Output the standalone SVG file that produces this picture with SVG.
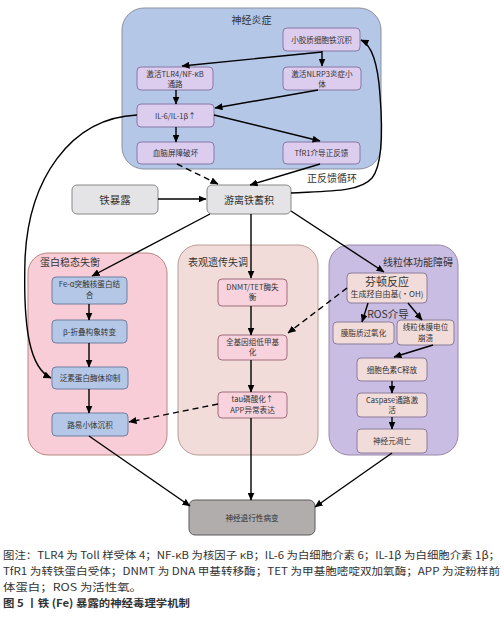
<svg xmlns="http://www.w3.org/2000/svg" width="504" height="618" viewBox="0 0 504 618">
<defs>
<marker id="ah" markerUnits="userSpaceOnUse" markerWidth="8" markerHeight="7" refX="7.5" refY="3.5" orient="auto">
<path d="M0,0 L8,3.5 L0,7 z" fill="#000"/>
</marker>
<style>
text{font-family:"Noto Sans CJK SC","Noto Sans",sans-serif;fill:#333;}
.t{font-size:7.6px;text-anchor:middle;}
.pt{font-size:10px;}
.c{stroke:#000;stroke-width:1.4;fill:none;marker-end:url(#ah);}
.d{stroke-dasharray:6,4;}
.pb{fill:#b4c7e7;stroke:#8a8f9e;stroke-width:1;}
.bp{fill:#dccdee;stroke:#8878a8;stroke-width:1;}
.pl{fill:#f8cdd7;stroke:#b8877f;stroke-width:1;}
.bl{fill:#b4c7e7;stroke:#6f7fa0;stroke-width:1;}
.pm{fill:#f2dcda;stroke:#b89c96;stroke-width:1;}
.bm{fill:#f8d3dd;stroke:#a06c7c;stroke-width:1;}
.pr{fill:#c9bde3;stroke:#9c88a8;stroke-width:1;}
.br{fill:#f2dcda;stroke:#8a7c9a;stroke-width:1;}
.g{fill:#e4e4e6;stroke:#888;stroke-width:1;}
.cap{font-size:10.6px;fill:#333;}
</style>
</defs>
<g id="panel-neuroinflammation">
<rect class="pb" x="122" y="8" width="259" height="161" rx="22"/>
<text class="pt" x="251.5" y="24" text-anchor="middle">神经炎症</text>
</g>
<g id="panel-proteostasis">
<rect class="pl" x="28" y="253" width="139" height="202" rx="20"/>
<text class="pt" x="40" y="266">蛋白稳态失衡</text>
</g>
<g id="panel-epigenetic">
<rect class="pm" x="178" y="245" width="140" height="210" rx="20"/>
<text class="pt" x="188" y="266">表观遗传失调</text>
</g>
<g id="panel-mito">
<rect class="pr" x="329" y="245" width="129" height="210" rx="20"/>
<text class="pt" x="453" y="266" text-anchor="end">线粒体功能障碍</text>
</g>
<g id="n-microglia"><rect class="bp" x="283" y="28" width="77" height="23" rx="4"/><text class="t" x="321.5" y="42.5">小胶质细胞铁沉积</text></g>
<g id="n-tlr4"><rect class="bp" x="137" y="67" width="76" height="23" rx="4"/><text class="t" x="175" y="76.5">激活TLR4/NF-κB</text><text class="t" x="175" y="87">通路</text></g>
<g id="n-nlrp3"><rect class="bp" x="283" y="67" width="78" height="23" rx="4"/><text class="t" x="322" y="76.5">激活NLRP3炎症小</text><text class="t" x="322" y="87">体</text></g>
<g id="n-il6"><rect class="bp" x="137" y="104" width="77" height="23" rx="4"/><text class="t" x="175.5" y="118.5">IL-6/IL-1β↑</text></g>
<g id="n-bbb"><rect class="bp" x="137" y="142" width="77" height="22" rx="4"/><text class="t" x="175.5" y="156">血脑屏障破坏</text></g>
<g id="n-tfr1"><rect class="bp" x="283" y="142" width="77" height="22" rx="4"/><text class="t" x="321.5" y="156">TfR1介导正反馈</text></g>
<g id="n-exposure"><rect class="g" x="72" y="185" width="86" height="29" rx="5"/><text x="115" y="203.5" font-size="10.5" text-anchor="middle">铁暴露</text></g>
<g id="n-freeiron"><rect class="g" x="207" y="185" width="84" height="29" rx="5"/><text x="249" y="203.5" font-size="10" text-anchor="middle">游离铁蓄积</text></g>
<g id="n-fe-syn"><rect class="bl" x="52" y="277" width="75" height="27" rx="4"/><text class="t" x="89.5" y="287">Fe-α突触核蛋白结</text><text class="t" x="89.5" y="297.5">合</text></g>
<g id="n-beta"><rect class="bl" x="52" y="320" width="75" height="23" rx="4"/><text class="t" x="89.5" y="334.5">β-折叠构象转变</text></g>
<g id="n-ups"><rect class="bl" x="52" y="367" width="76" height="22" rx="4"/><text class="t" x="90" y="381">泛素蛋白酶体抑制</text></g>
<g id="n-lewy"><rect class="bl" x="52" y="413" width="76" height="23" rx="4"/><text class="t" x="90" y="427.5">路易小体沉积</text></g>
<g id="n-dnmt"><rect class="bm" x="218" y="279" width="69" height="27" rx="4"/><text class="t" x="252.5" y="289.5">DNMT/TET酶失</text><text class="t" x="252.5" y="300">衡</text></g>
<g id="n-hypometh"><rect class="bm" x="218" y="335" width="69" height="25" rx="4"/><text class="t" x="252.5" y="344.5">全基因组低甲基</text><text class="t" x="252.5" y="355">化</text></g>
<g id="n-tau"><rect class="bm" x="218" y="392" width="69" height="26" rx="4"/><text class="t" x="252.5" y="402">tau磷酸化↑</text><text class="t" x="252.5" y="412.5">APP异常表达</text></g>
<g id="n-fenton"><rect class="br" x="347" y="273" width="80" height="30" rx="4"/><text x="387" y="286" font-size="11" text-anchor="middle">芬顿反应</text><text x="387" y="297" font-size="8" text-anchor="middle">生成羟自由基(·OH)</text></g>
<text id="lbl-ros" x="388" y="318" font-size="10.5" text-anchor="middle">ROS介导</text>
<g id="n-lipid"><rect class="br" x="333" y="322" width="61" height="22" rx="4"/><text class="t" x="363.5" y="336">膜脂质过氧化</text></g>
<g id="n-mmp"><rect class="br" x="397" y="320" width="57" height="25" rx="4"/><text class="t" x="425.5" y="330">线粒体膜电位</text><text class="t" x="425.5" y="340.5">崩溃</text></g>
<g id="n-cytc"><rect class="br" x="357" y="358" width="70" height="23" rx="4"/><text class="t" x="392" y="372.5">细胞色素C释放</text></g>
<g id="n-casp"><rect class="br" x="357" y="393" width="70" height="24" rx="4"/><text class="t" x="392" y="402.5">Caspase通路激</text><text class="t" x="392" y="413">活</text></g>
<g id="n-apop"><rect class="br" x="357" y="429" width="70" height="24" rx="4"/><text class="t" x="392" y="444">神经元凋亡</text></g>
<g id="n-neurodeg"><rect x="189" y="500" width="126" height="35" rx="6" fill="#b2adad" stroke="#5a5a5a" stroke-width="1"/><text class="t" x="252" y="520.5">神经退行性病变</text></g>
<g id="connectors">
<line class="c" x1="322" y1="51" x2="322" y2="66"/>
<line class="c" x1="322" y1="52" x2="182" y2="66"/>
<line class="c" x1="176" y1="90" x2="176" y2="104"/>
<line class="c" x1="318" y1="90" x2="215" y2="108"/>
<line class="c" x1="176" y1="127" x2="176" y2="142"/>
<line class="c" x1="214" y1="115" x2="320" y2="141"/>
<line class="c d" x1="177" y1="164" x2="218" y2="184"/>
<line class="c" x1="320" y1="164" x2="250" y2="185"/>
<path class="c" d="M291,193 C330,191 360,192 372,178 C384,163 382,120 380,95 C378,65 372,45 361,40"/>
<text id="lbl-feedback" x="307" y="182" font-size="10">正反馈循环</text>
<line class="c" x1="158" y1="199" x2="206" y2="199"/>
<path class="c" d="M137,115 C70,118 28,180 25,260 C23,330 30,368 51,378"/>
<line class="c" x1="210" y1="214" x2="92" y2="276"/>
<line class="c" x1="251" y1="214" x2="251" y2="278"/>
<line class="c" x1="291" y1="211" x2="384" y2="272"/>
<line class="c" x1="89" y1="304" x2="89" y2="320"/>
<line class="c" x1="89" y1="343" x2="89" y2="367"/>
<line class="c" x1="89" y1="389" x2="89" y2="413"/>
<line class="c" x1="89" y1="436" x2="190" y2="506"/>
<line class="c" x1="251" y1="306" x2="251" y2="335"/>
<line class="c" x1="251" y1="360" x2="251" y2="392"/>
<line class="c" x1="251" y1="418" x2="251" y2="500"/>
<line class="c d" x1="347" y1="288" x2="288" y2="333"/>
<line class="c d" x1="218" y1="404" x2="129" y2="422"/>
<line class="c" x1="368" y1="303" x2="362" y2="322"/>
<line class="c" x1="408" y1="303" x2="422" y2="320"/>
<line class="c" x1="433" y1="345" x2="394" y2="357"/>
<line class="c" x1="392" y1="381" x2="392" y2="393"/>
<line class="c" x1="392" y1="417" x2="392" y2="429"/>
<line class="c" x1="392" y1="453" x2="315" y2="507"/>
</g>
<g id="caption">
<text class="cap" x="3" y="559" textLength="497" lengthAdjust="spacingAndGlyphs">图注：TLR4 为 Toll 样受体 4；NF-κB 为核因子 κB；IL-6 为白细胞介素 6；IL-1β 为白细胞介素 1β；</text>
<text class="cap" x="3" y="575" textLength="497" lengthAdjust="spacingAndGlyphs">TfR1 为转铁蛋白受体；DNMT 为 DNA 甲基转移酶；TET 为甲基胞嘧啶双加氧酶；APP 为淀粉样前</text>
<text class="cap" x="3" y="591" textLength="139" lengthAdjust="spacingAndGlyphs">体蛋白；ROS 为活性氧。</text>
<text class="cap" x="3" y="607" textLength="187" lengthAdjust="spacingAndGlyphs" font-weight="bold">图 5 丨铁 (Fe) 暴露的神经毒理学机制</text>
</g>
</svg>
